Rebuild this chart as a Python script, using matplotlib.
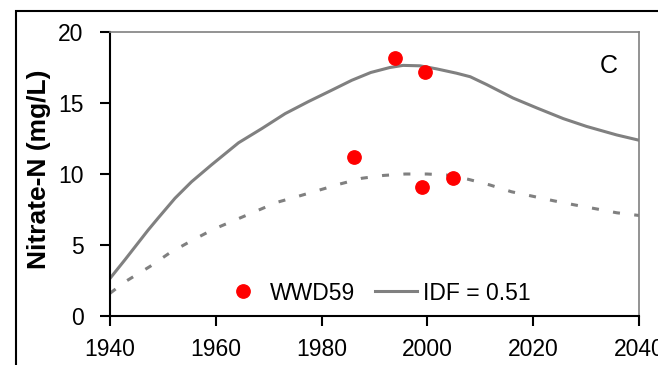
# nitrate-N at WWD59 against two IDF model curves

import matplotlib.pyplot as plt
from matplotlib.patches import Rectangle

plt.rcParams['font.family'] = ['Liberation Sans', 'DejaVu Sans']

solid_years = [1940, 1942.8, 1947.2, 1949.1, 1952.3, 1955.4, 1959.2, 1964.3,
               1968.7, 1973.1, 1977.5, 1981.9, 1985.7, 1989.3, 1992.9, 1995.4,
               1998.6, 2001.8, 2005.5, 2008.1, 2011.2, 2016.2, 2020.7, 2025.7,
               2030.1, 2035.8, 2040]
idf_solid = [2.65, 3.95, 6.05, 6.9, 8.3, 9.45, 10.65, 12.2, 13.2, 14.25,
             15.1, 15.9, 16.6, 17.15, 17.5, 17.65, 17.62, 17.4, 17.1, 16.85,
             16.3, 15.35, 14.65, 13.9, 13.35, 12.75, 12.38]

dashed_years = [1940, 1942.8, 1947.6, 1951.3, 1955.4, 1959.5, 1963.6, 1967.4,
                1971.5, 1975.3, 1979.4, 1983.5, 1987.6, 1991.7, 1995.8, 1999.9,
                2003.6, 2007.7, 2011.8, 2015.9, 2019.7, 2023.8, 2027.9, 2032,
                2035.8, 2040]
idf_dashed = [1.6, 2.4, 3.5, 4.45, 5.3, 6.1, 6.75, 7.35, 8.0, 8.4, 8.85, 9.3,
              9.7, 9.9, 10.0, 10.0, 9.93, 9.63, 9.23, 8.75, 8.45, 8.12, 7.82,
              7.54, 7.27, 7.08]

obs_years = [1986.2, 1993.9, 1999.5, 1998.9, 2004.9]
obs_values = [11.2, 18.15, 17.2, 9.1, 9.75]

fig = plt.figure(figsize=(6.58, 3.65), dpi=100)
ax = fig.add_axes([0.1672, 0.1342, 0.8039, 0.7781])

# outer frame of the panel
fig.patches.append(Rectangle((16 / 658, -0.1), 1.2, 1 - 11 / 365 + 0.1,
                             transform=fig.transFigure, fill=False,
                             edgecolor='black', linewidth=1.5))

gray = '#808080'
ax.plot(solid_years, idf_solid, color=gray, lw=2.2, label='IDF = 0.51')
ax.plot(dashed_years, idf_dashed, color=gray, lw=2.2, dashes=(2.3, 4.7))
ax.plot(obs_years, obs_values, 'o', color='#ff0000', ms=9.6, label='WWD59',
        zorder=3)

ax.set_xlim(1940, 2040)
ax.set_ylim(0, 20)
ax.set_xticks(range(1940, 2041, 20))
ax.set_yticks(range(0, 21, 5))
ax.tick_params(labelsize=16.5, length=7, width=1.5, direction='out')
ax.tick_params(axis='x', pad=9)
ax.tick_params(axis='y', pad=12)
ax.set_ylabel('Nitrate-N (mg/L)', fontsize=19, fontweight='bold', va='center')
ax.yaxis.set_label_coords(-0.134, 0.518)

for s in ['left', 'bottom']:
    ax.spines[s].set_linewidth(1.5)
for s in ['top', 'right']:
    ax.spines[s].set_color(gray)
    ax.spines[s].set_linewidth(1.2)

ax.text(0.943, 0.88, 'C', transform=ax.transAxes, fontsize=18,
        ha='center', va='center')

handles, labels = ax.get_legend_handles_labels()
ax.legend(handles[::-1], labels[::-1], ncol=2, frameon=False, fontsize=16.5,
          loc='center', bbox_to_anchor=(0.503, 0.081), handlelength=1.85,
          columnspacing=0.85, handletextpad=0.27)

fig.savefig('out.png', dpi=100)
